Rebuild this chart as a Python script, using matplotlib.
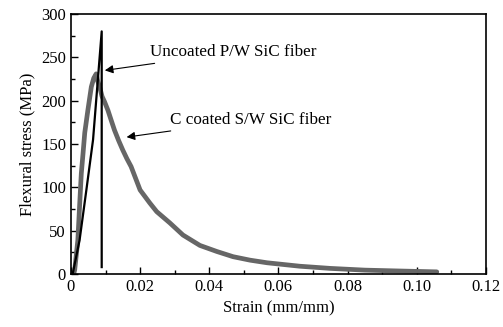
import matplotlib
matplotlib.use("Agg")
import matplotlib.pyplot as plt
from matplotlib.ticker import MultipleLocator, FuncFormatter

plt.rcParams["font.family"] = ["Liberation Serif", "DejaVu Serif"]

# Uncoated P/W SiC fiber
uncoated_strain = [0.0005, 0.0025, 0.0045, 0.0064, 0.0089, 0.0089]
uncoated_stress = [0, 39, 98, 155, 280, 8]

# C coated S/W SiC fiber
coated_strain = [0.0008, 0.0011, 0.0020, 0.0025, 0.0030, 0.0035, 0.0040, 0.0049,
                 0.0059, 0.0066, 0.0073, 0.0078, 0.0083, 0.0090, 0.0097, 0.0107,
                 0.0116, 0.0126, 0.0138, 0.0150, 0.0162, 0.0174, 0.0200, 0.0228,
                 0.0248, 0.0286, 0.0324, 0.0373, 0.0422, 0.0469, 0.0518, 0.0567,
                 0.0662, 0.0750, 0.0850, 0.0950, 0.1058]
coated_stress = [0, 5, 39, 78, 116, 139, 163, 189,
                 216, 226, 231, 222, 216, 205, 199, 189,
                 178, 166, 154, 143, 133, 124, 97, 82,
                 72, 59, 45, 33, 26, 20, 16, 13,
                 9, 6.5, 4.5, 3.5, 2.5]

fig = plt.figure(figsize=(5.03, 3.27), dpi=100)
ax = fig.add_axes([0.141, 0.162, 0.825, 0.795])

ax.plot(coated_strain, coated_stress, color="#666666", lw=3.4,
        solid_capstyle="round", solid_joinstyle="round")
ax.plot(uncoated_strain, uncoated_stress, color="black", lw=1.6)

ax.set_xlim(0, 0.12)
ax.set_ylim(0, 300)
ax.xaxis.set_major_locator(MultipleLocator(0.02))
ax.xaxis.set_minor_locator(MultipleLocator(0.01))
ax.yaxis.set_major_locator(MultipleLocator(50))
ax.yaxis.set_minor_locator(MultipleLocator(25))
ax.xaxis.set_major_formatter(FuncFormatter(lambda v, p: "0" if abs(v) < 1e-9 else f"{v:.2f}"))
ax.tick_params(which="major", direction="in", length=5, width=1, labelsize=12)
ax.tick_params(which="minor", direction="in", length=3, width=1)
for s in ax.spines.values():
    s.set_linewidth(1.2)

ax.set_xlabel("Strain (mm/mm)", fontsize=12)
ax.set_ylabel("Flexural stress (MPa)", fontsize=12)

ax.annotate("Uncoated P/W SiC fiber", xy=(0.0098, 235), xytext=(0.0230, 256),
            fontsize=12.3, va="center",
            arrowprops=dict(arrowstyle="-|>", color="black", lw=0.8, shrinkA=2, shrinkB=0))
ax.annotate("C coated S/W SiC fiber", xy=(0.0161, 158), xytext=(0.0286, 178),
            fontsize=12.3, va="center",
            arrowprops=dict(arrowstyle="-|>", color="black", lw=0.8, shrinkA=2, shrinkB=0))

fig.savefig("out.png", dpi=100)
